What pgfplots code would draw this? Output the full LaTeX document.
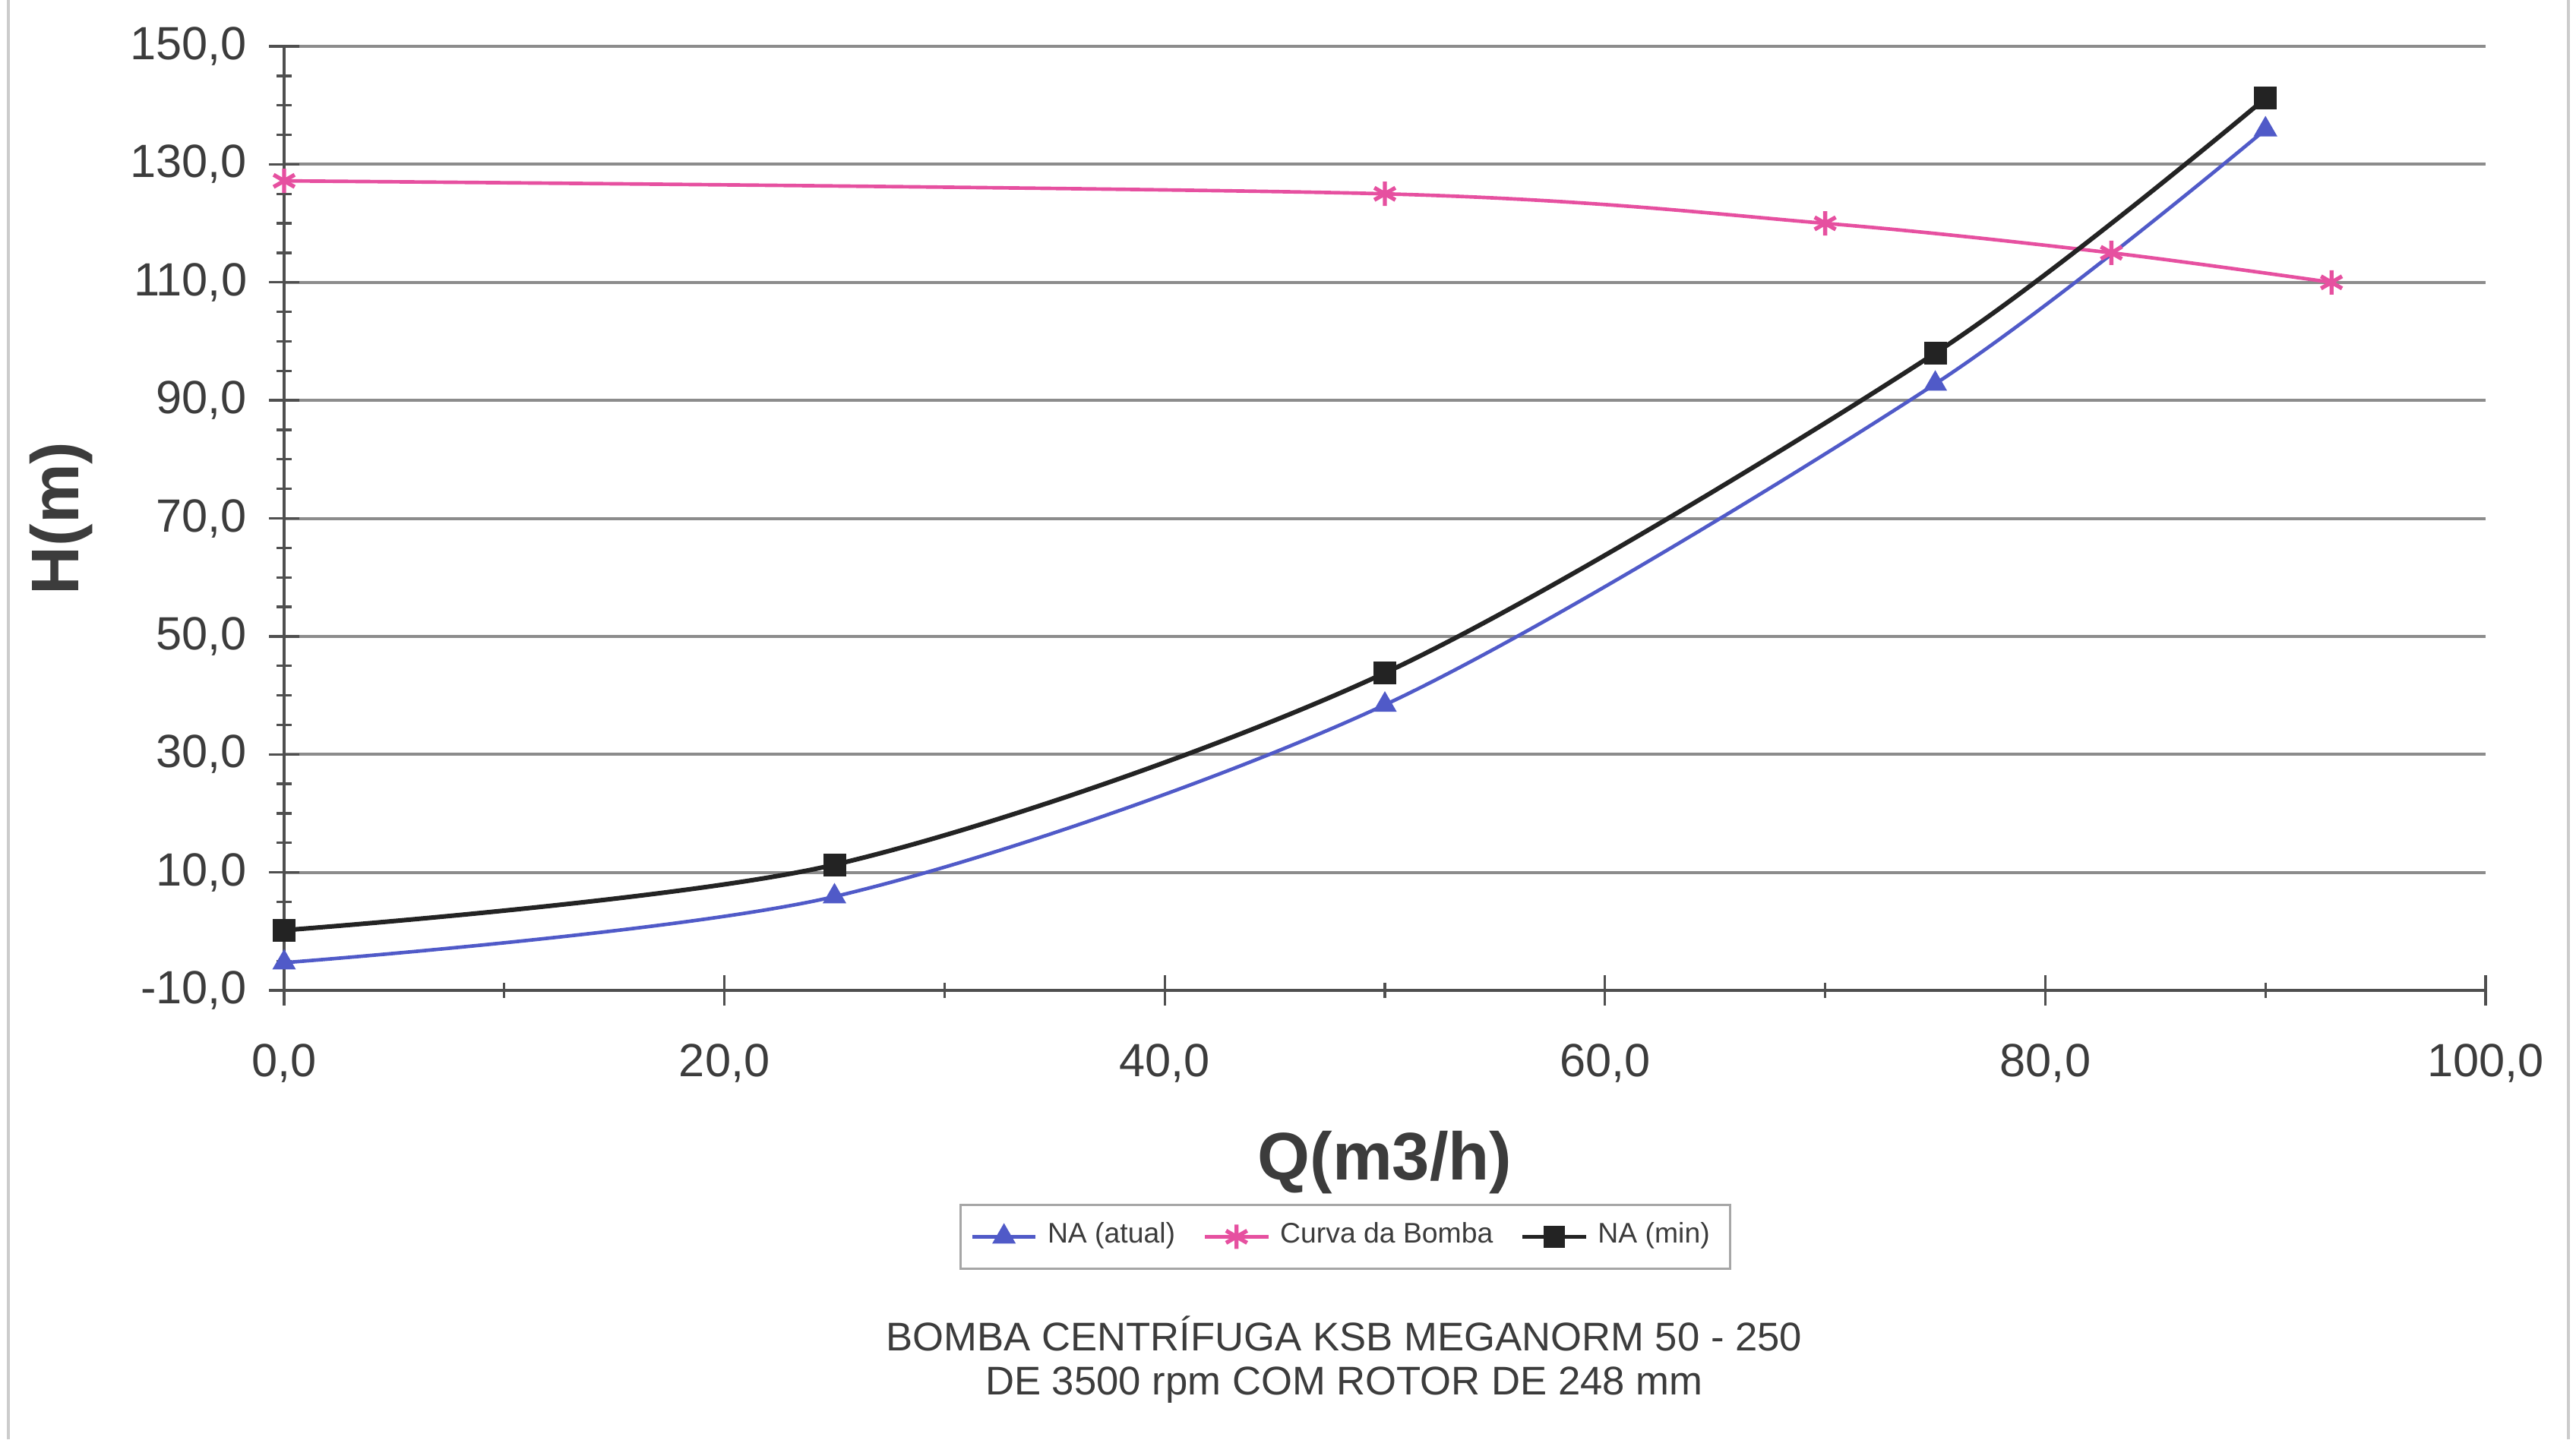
\documentclass[border=0pt]{standalone}
\usepackage{fontspec}
\setmainfont{Liberation Sans}
\usepackage{pgfplots}
\pgfplotsset{compat=1.18}
\definecolor{nablue}{RGB}{80,90,200}
\definecolor{pumppink}{RGB}{230,80,160}
\definecolor{txt}{RGB}{60,60,60}
\definecolor{gridc}{RGB}{140,140,140}
\definecolor{blk}{RGB}{35,35,35}
\begin{document}
\begin{tikzpicture}[x=1pt,y=1pt]
\useasboundingbox (0,0) rectangle (508.65,284.25);
\draw[gray!40, line width=0.6pt] (1.6,0) -- (1.6,284.25);
\draw[gray!40, line width=0.6pt] (507.1,0) -- (507.1,284.25);
\begin{axis}[
  scale only axis,
  width=434.7pt, height=186.45pt,
  at={(56.1pt,88.65pt)}, anchor=south west,
  xmin=0, xmax=100, ymin=-10, ymax=150,
  xtick={0,20,...,100}, ytick={-10,10,...,150},
  minor x tick num=1, minor y tick num=3,
  axis x line*=bottom, axis y line*=left,
  axis line style={blk!80, line width=0.6pt},
  tick style={blk!80, line width=0.5pt},
  tick align=center,
  major tick length=6pt, minor tick length=3pt,
  ymajorgrids,
  major grid style={gridc, line width=0.6pt},
  /pgf/number format/.cd, fixed, fixed zerofill, precision=1, use comma, 1000 sep={}, assume math mode=true,
  /pgfplots/.cd,
  ticklabel style={font=\fontsize{9.2}{11}\selectfont, text=txt},
  yticklabel style={xshift=-0.8pt},
  xticklabel style={yshift=-4pt},
  xlabel={Q(m3/h)}, ylabel={H(m)},
  label style={font=\fontsize{13.3}{15}\selectfont\bfseries, text=txt},
  xlabel style={at={(axis description cs:0.5,-0.1826)}, anchor=center},
  ylabel style={at={(axis description cs:-0.1014,0.5)}, anchor=center},
  legend style={at={(0.482,-0.261)}, anchor=center, legend columns=3,
    draw=gray!70, line width=0.4pt, font=\fontsize{5.6}{6.5}\selectfont, text=txt,
    inner xsep=2pt, inner ysep=1.5pt,
    /tikz/every even column/.append style={column sep=3.5pt}},
  legend image code/.code={%
    \draw[mark repeat=2, mark phase=2, #1, line width=0.7pt] plot coordinates {(-0.22cm,0cm) (0cm,0cm) (0.22cm,0cm)};},
]
\addplot[nablue, line width=0.7pt, smooth, mark=triangle*, mark size=2pt, mark options={fill=nablue}]
  coordinates {(0,-5.3) (25,5.9) (50,38.4) (75,92.8) (90,135.9)};
\addlegendentry{NA (atual)}
\addplot[pumppink, line width=0.7pt, smooth, mark=asterisk, mark size=2.4pt, mark options={line width=0.8pt}]
  coordinates {(0,127.2) (50,125) (70,120) (83,115) (93,110)};
\addlegendentry{Curva da Bomba}
\addplot[blk, line width=0.9pt, smooth, mark=square*, mark size=1.8pt, mark options={fill=blk}]
  coordinates {(0,0.2) (25,11.3) (50,43.8) (75,98.0) (90,141.2)};
\addlegendentry{NA (min)}
\end{axis}
\node[text=txt, font=\fontsize{7.9}{9}\selectfont] at (265.4,20.85) {BOMBA CENTRÍFUGA KSB MEGANORM 50 - 250};
\node[text=txt, font=\fontsize{7.9}{9}\selectfont] at (265.4,10.75) {DE 3500 rpm COM ROTOR DE 248 mm};
\end{tikzpicture}
\end{document}
